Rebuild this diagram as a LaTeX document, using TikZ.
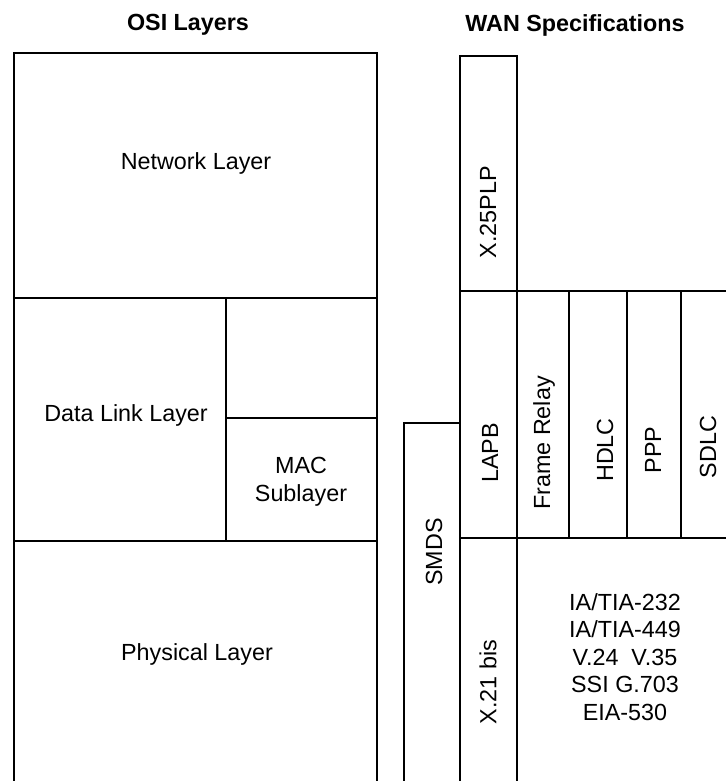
\documentclass[tikz,border=0pt]{standalone}
\usepackage{fontspec}
\setmainfont{Liberation Sans}
\usetikzlibrary{positioning}

\begin{document}
\begin{tikzpicture}[x=0.75pt,y=0.75pt,line width=1pt,
    layer/.style={font=\fontsize{17.5}{20.6}\selectfont,align=center,inner sep=0pt},
    spec/.style={layer,rotate=90},
    heading/.style={font=\fontsize{17.5}{20}\selectfont\bfseries,inner sep=0pt}]
    \useasboundingbox (0,0) rectangle (726,-781);
    % OSI side
    \node[heading] (osi) at (188,-25) {OSI Layers};
    \draw (14,-781) -- (14,-53) -- (377,-53) -- (377,-781);
    \draw (14,-298) -- (377,-298);
    \draw (14,-541) -- (377,-541);
    \draw (226,-298) -- (226,-541);
    \draw (226,-418) -- (377,-418);
    \node[layer] (net) at (196,-163) {Network Layer};
    \node[layer] (dll) at (126,-415) {Data Link Layer};
    \node[layer] (mac) at (301,-482) {MAC\\Sublayer};
    \node[layer] (phy) at (197,-654) {Physical Layer};
    % WAN side
    \node[heading] (wan) at (575,-25) {WAN Specifications};
    \draw (404,-781) -- (404,-423) -- (460,-423);
    \draw (460,-781) -- (460,-56) -- (517,-56) -- (517,-781);
    \draw (460,-291) -- (726,-291);
    \draw (460,-538) -- (726,-538);
    \foreach \x in {569,627,681}
      \draw (\x,-291) -- (\x,-538);
    \node[spec] (x25) at (488,-212) {X.25PLP};
    \node[spec] (lapb) at (490,-453) {LAPB};
    \node[spec] (frelay) at (544,-443) {Frame Relay};
    \node[spec] (hdlc) at (605,-450) {HDLC};
    \node[spec] (ppp) at (653,-450) {PPP};
    \node[spec] (sdlc) at (708,-447) {SDLC};
    \node[spec] (smds) at (434,-552) {SMDS};
    \node[spec] (x21) at (488,-682) {X.21 bis};
    \node[layer] (iface) at (625,-657) {IA/TIA-232\\IA/TIA-449\\V.24~~V.35\\SSI G.703\\EIA-530};
\end{tikzpicture}
\end{document}
